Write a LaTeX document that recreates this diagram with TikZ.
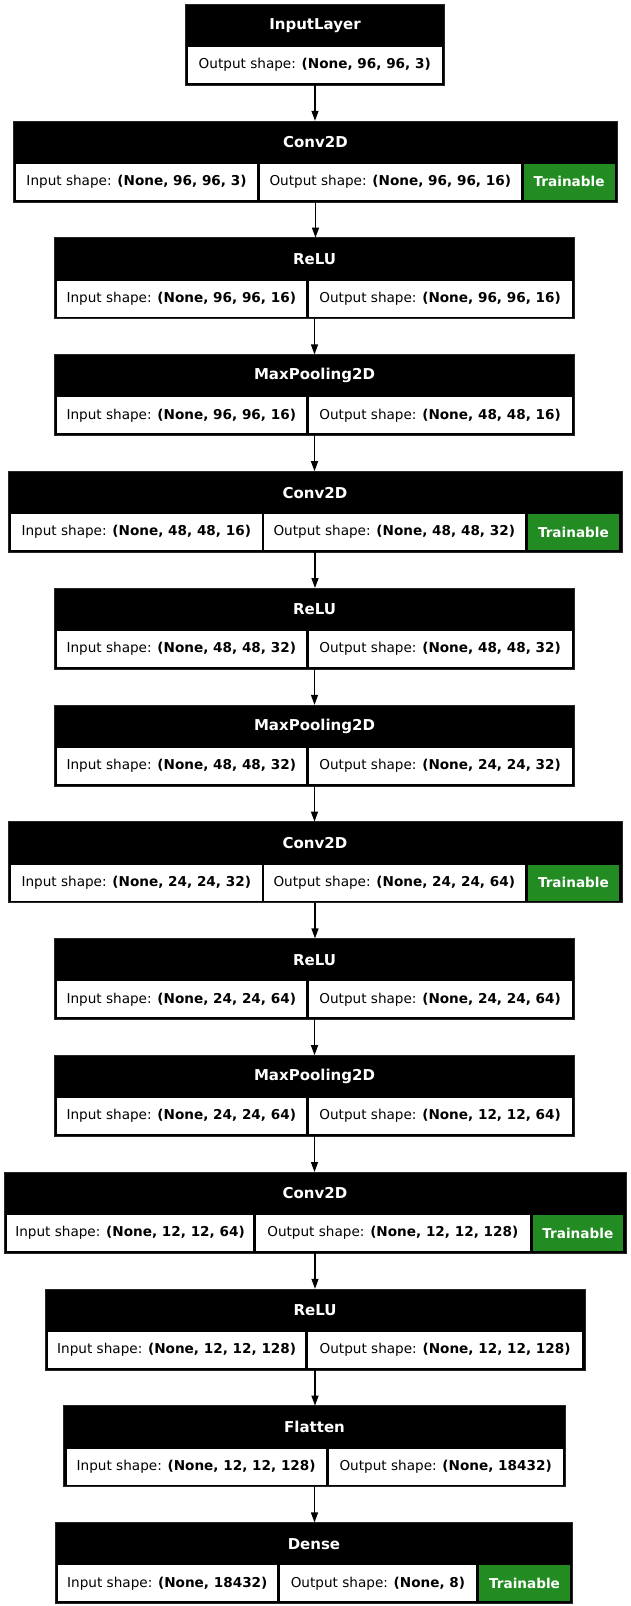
\documentclass[tikz,border=0pt]{standalone}
\usepackage{fontspec}
\setmainfont{DejaVu Sans}
\usetikzlibrary{arrows.meta}
\definecolor{trgreen}{HTML}{228B22}
\newcommand\mkblock[5]{% name, left, right, top, header
  \pgfmathsetmacro\bwid{#3-#2}%
  \node[blk, minimum width=\bwid pt] (#1) at (#2,#4) {};%
  \node[hdr] (#1h) at ([yshift=-21.5pt]#1.north) {#5};%
}
\newcommand\mkcell[6]{% name, style, left, right, block top, text
  \pgfmathsetmacro\cwid{#4-#3}%
  \node[#2, minimum width=\cwid pt] (#1) at (#3,#5+43) {#6};%
}
\newcommand\ins[1]{Input shape: \textbf{#1}}
\newcommand\outs[1]{Output shape: \textbf{#1}}
\begin{document}
\begin{tikzpicture}[x=1pt,y=-1pt,
  blk/.style={fill=black, draw=black!85, line width=0.6pt, inner sep=0pt, outer sep=0pt, anchor=north west, minimum height=81pt},
  hdr/.style={text=white, font=\fontsize{15}{18}\selectfont\bfseries, inner sep=0pt},
  cellw/.style={fill=white, inner sep=0pt, outer sep=0pt, anchor=north west, minimum height=36pt, font=\fontsize{13.6}{16}\selectfont},
  cellg/.style={cellw, fill=trgreen, text=white, font=\fontsize{13.6}{16}\selectfont\bfseries},
  arr/.style={-{Triangle[length=10pt,width=7pt]}, line width=1.3pt}]
\useasboundingbox (0,0) rectangle (631,1606);
% 0 InputLayer
\mkblock{b0}{185.5}{444.5}{4}{InputLayer}
\mkcell{b0o}{cellw}{188}{441.5}{4}{\outs{(None, 96, 96, 3)}}
% 1 Conv2D
\mkblock{b1}{13.3}{617.7}{120.8}{Conv2D}
\mkcell{b1i}{cellw}{16}{257}{120.8}{\ins{(None, 96, 96, 3)}}
\mkcell{b1o}{cellw}{260}{520.5}{120.8}{\outs{(None, 96, 96, 16)}}
\mkcell{b1t}{cellg}{523.5}{614.7}{120.8}{Trainable}
% 2 ReLU
\mkblock{b2}{54.3}{574.7}{237.6}{ReLU}
\mkcell{b2i}{cellw}{57}{305.5}{237.6}{\ins{(None, 96, 96, 16)}}
\mkcell{b2o}{cellw}{308.5}{571.7}{237.6}{\outs{(None, 96, 96, 16)}}
% 3 MaxPooling2D
\mkblock{b3}{54.3}{574.7}{354.4}{MaxPooling2D}
\mkcell{b3i}{cellw}{57}{305.5}{354.4}{\ins{(None, 96, 96, 16)}}
\mkcell{b3o}{cellw}{308.5}{571.7}{354.4}{\outs{(None, 48, 48, 16)}}
% 4 Conv2D
\mkblock{b4}{8.2}{621.8}{471.2}{Conv2D}
\mkcell{b4i}{cellw}{11}{261.5}{471.2}{\ins{(None, 48, 48, 16)}}
\mkcell{b4o}{cellw}{264}{524.5}{471.2}{\outs{(None, 48, 48, 32)}}
\mkcell{b4t}{cellg}{528}{618.8}{471.2}{Trainable}
% 5 ReLU
\mkblock{b5}{54.3}{574.7}{588}{ReLU}
\mkcell{b5i}{cellw}{57}{305.5}{588}{\ins{(None, 48, 48, 32)}}
\mkcell{b5o}{cellw}{308.5}{571.7}{588}{\outs{(None, 48, 48, 32)}}
% 6 MaxPooling2D
\mkblock{b6}{54.3}{574.7}{704.8}{MaxPooling2D}
\mkcell{b6i}{cellw}{57}{305.5}{704.8}{\ins{(None, 48, 48, 32)}}
\mkcell{b6o}{cellw}{308.5}{571.7}{704.8}{\outs{(None, 24, 24, 32)}}
% 7 Conv2D
\mkblock{b7}{8.2}{621.8}{821.6}{Conv2D}
\mkcell{b7i}{cellw}{11}{261.5}{821.6}{\ins{(None, 24, 24, 32)}}
\mkcell{b7o}{cellw}{264}{524.5}{821.6}{\outs{(None, 24, 24, 64)}}
\mkcell{b7t}{cellg}{528}{618.8}{821.6}{Trainable}
% 8 ReLU
\mkblock{b8}{54.3}{574.7}{938.4}{ReLU}
\mkcell{b8i}{cellw}{57}{305.5}{938.4}{\ins{(None, 24, 24, 64)}}
\mkcell{b8o}{cellw}{308.5}{571.7}{938.4}{\outs{(None, 24, 24, 64)}}
% 9 MaxPooling2D
\mkblock{b9}{54.3}{574.7}{1055.2}{MaxPooling2D}
\mkcell{b9i}{cellw}{57}{305.5}{1055.2}{\ins{(None, 24, 24, 64)}}
\mkcell{b9o}{cellw}{308.5}{571.7}{1055.2}{\outs{(None, 12, 12, 64)}}
% 10 Conv2D
\mkblock{b10}{4.1}{625.9}{1172}{Conv2D}
\mkcell{b10i}{cellw}{7}{253}{1172}{\ins{(None, 12, 12, 64)}}
\mkcell{b10o}{cellw}{256}{529.6}{1172}{\outs{(None, 12, 12, 128)}}
\mkcell{b10t}{cellg}{532.7}{622.9}{1172}{Trainable}
% 11 ReLU
\mkblock{b11}{45.1}{584.9}{1288.8}{ReLU}
\mkcell{b11i}{cellw}{48}{305.3}{1288.8}{\ins{(None, 12, 12, 128)}}
\mkcell{b11o}{cellw}{308.3}{581.9}{1288.8}{\outs{(None, 12, 12, 128)}}
% 12 Flatten
\mkblock{b12}{63.5}{565.5}{1405.6}{Flatten}
\mkcell{b12i}{cellw}{66.5}{325.8}{1405.6}{\ins{(None, 12, 12, 128)}}
\mkcell{b12o}{cellw}{328.8}{562.5}{1405.6}{\outs{(None, 18432)}}
% 13 Dense
\mkblock{b13}{55.3}{572.6}{1522.4}{Dense}
\mkcell{b13i}{cellw}{58}{276.6}{1522.4}{\ins{(None, 18432)}}
\mkcell{b13o}{cellw}{279.6}{476.3}{1522.4}{\outs{(None, 8)}}
\mkcell{b13t}{cellg}{479.4}{569.6}{1522.4}{Trainable}
% connectors
\foreach \a/\b in {b0/b1,b1/b2,b2/b3,b3/b4,b4/b5,b5/b6,b6/b7,b7/b8,b8/b9,b9/b10,b10/b11,b11/b12,b12/b13}
  \draw[arr] (\a.south) -- (\a.south |- \b.north);
\end{tikzpicture}
\end{document}
